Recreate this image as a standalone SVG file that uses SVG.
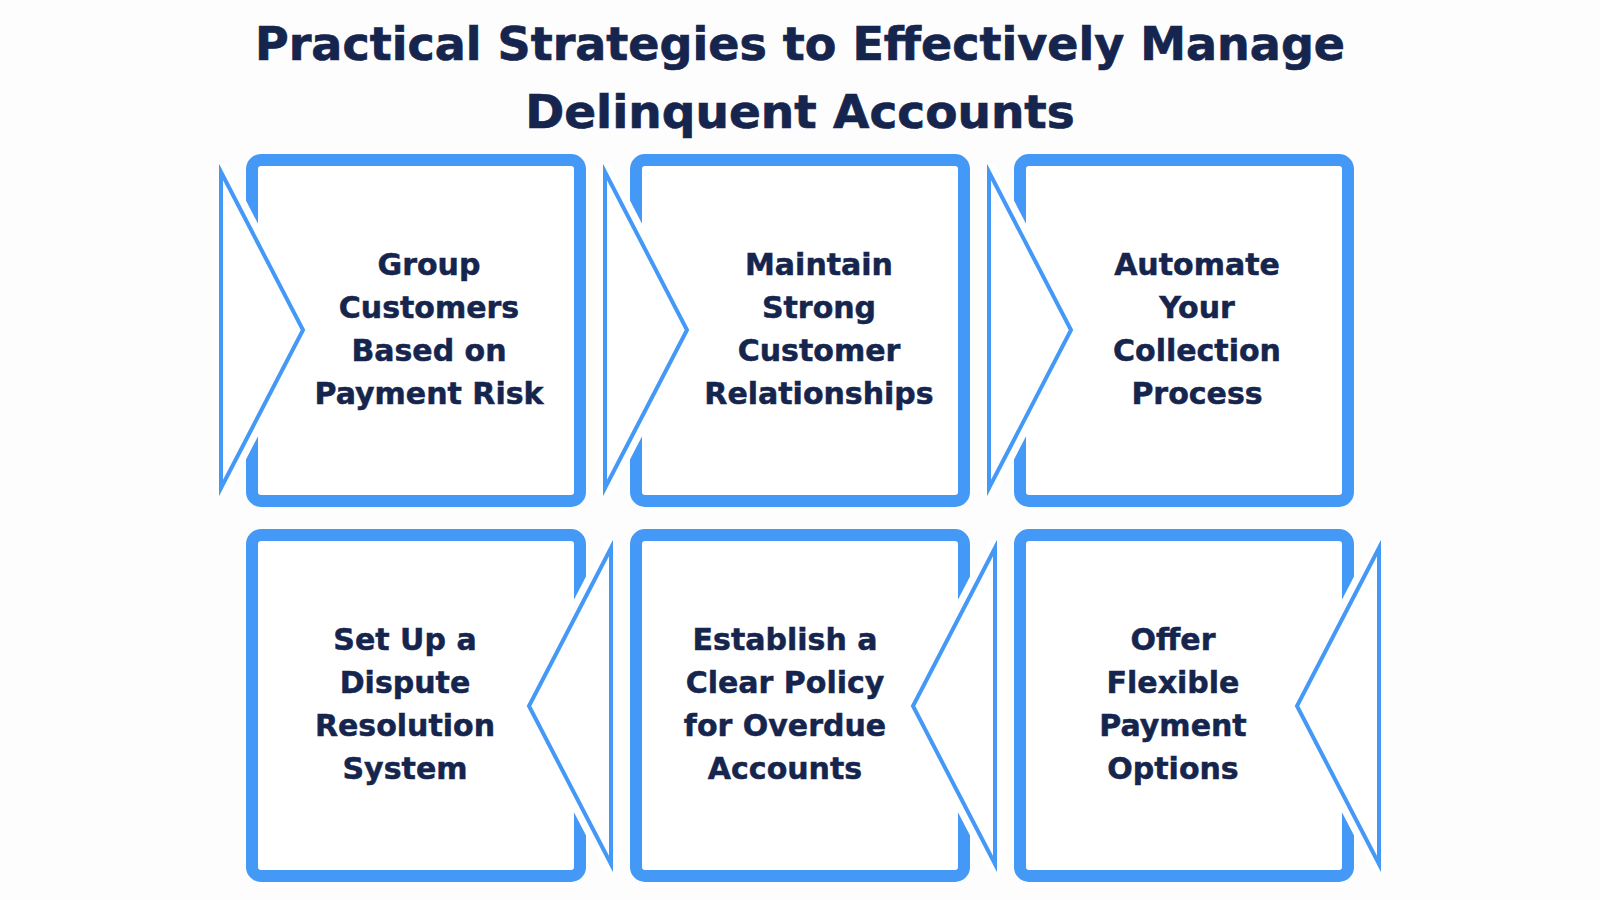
<svg xmlns="http://www.w3.org/2000/svg" width="1600" height="900" viewBox="0 0 1600 900">
<style>
.bg{fill:#fdfdfd}
.box{fill:#ffffff;stroke:#4599f6;stroke-width:12}
.lbl{font-family:"DejaVu Sans",sans-serif;font-weight:bold;font-size:30px;fill:#15254d;stroke:#15254d;stroke-width:0.5;text-anchor:middle}
.title{font-family:"DejaVu Sans",sans-serif;font-weight:bold;font-size:47px;fill:#15254d;stroke:#15254d;stroke-width:0.7;text-anchor:middle}
.gap{fill:#ffffff;stroke:#ffffff;stroke-width:18;stroke-linejoin:round}
.chev{fill:none;stroke:#4599f6;stroke-width:4;stroke-miterlimit:10}
</style>
<rect class="bg" x="0" y="0" width="1600" height="900"/>
<g id="title">
<text class="title" x="800" y="60" style="font-size:46px">Practical Strategies to Effectively Manage</text>
<text class="title" x="800" y="128">Delinquent Accounts</text>
</g>
<g id="node1">
<rect class="box" x="252" y="160" width="328" height="341" rx="9"/>
</g>
<g id="node2">
<rect class="box" x="636" y="160" width="328" height="341" rx="9"/>
</g>
<g id="node3">
<rect class="box" x="1020" y="160" width="328" height="341" rx="9"/>
</g>
<g id="node4">
<rect class="box" x="252" y="535" width="328" height="341" rx="9"/>
</g>
<g id="node5">
<rect class="box" x="636" y="535" width="328" height="341" rx="9"/>
</g>
<g id="node6">
<rect class="box" x="1020" y="535" width="328" height="341" rx="9"/>
</g>
<g id="connectors">
<polygon class="gap" points="221,172 303,330 221,488"/>
<polygon class="chev" points="221,172 303,330 221,488"/>
<polygon class="gap" points="605,172 687,330 605,488"/>
<polygon class="chev" points="605,172 687,330 605,488"/>
<polygon class="gap" points="989,172 1071,330 989,488"/>
<polygon class="chev" points="989,172 1071,330 989,488"/>
<polygon class="gap" points="611,548 529,706 611,864"/>
<polygon class="chev" points="611,548 529,706 611,864"/>
<polygon class="gap" points="995,548 913,706 995,864"/>
<polygon class="chev" points="995,548 913,706 995,864"/>
<polygon class="gap" points="1379,548 1297,706 1379,864"/>
<polygon class="chev" points="1379,548 1297,706 1379,864"/>
</g>
<g id="labels">
<text class="lbl" x="429" y="275">Group</text>
<text class="lbl" x="429" y="318">Customers</text>
<text class="lbl" x="429" y="361">Based on</text>
<text class="lbl" x="429" y="404">Payment Risk</text>
<text class="lbl" x="819" y="275">Maintain</text>
<text class="lbl" x="819" y="318">Strong</text>
<text class="lbl" x="819" y="361">Customer</text>
<text class="lbl" x="819" y="404">Relationships</text>
<text class="lbl" x="1197" y="275">Automate</text>
<text class="lbl" x="1197" y="318">Your</text>
<text class="lbl" x="1197" y="361">Collection</text>
<text class="lbl" x="1197" y="404">Process</text>
<text class="lbl" x="405" y="650">Set Up a</text>
<text class="lbl" x="405" y="693">Dispute</text>
<text class="lbl" x="405" y="736">Resolution</text>
<text class="lbl" x="405" y="779">System</text>
<text class="lbl" x="785" y="650">Establish a</text>
<text class="lbl" x="785" y="693">Clear Policy</text>
<text class="lbl" x="785" y="736">for Overdue</text>
<text class="lbl" x="785" y="779">Accounts</text>
<text class="lbl" x="1173" y="650">Offer</text>
<text class="lbl" x="1173" y="693">Flexible</text>
<text class="lbl" x="1173" y="736">Payment</text>
<text class="lbl" x="1173" y="779">Options</text>
</g>
</svg>
